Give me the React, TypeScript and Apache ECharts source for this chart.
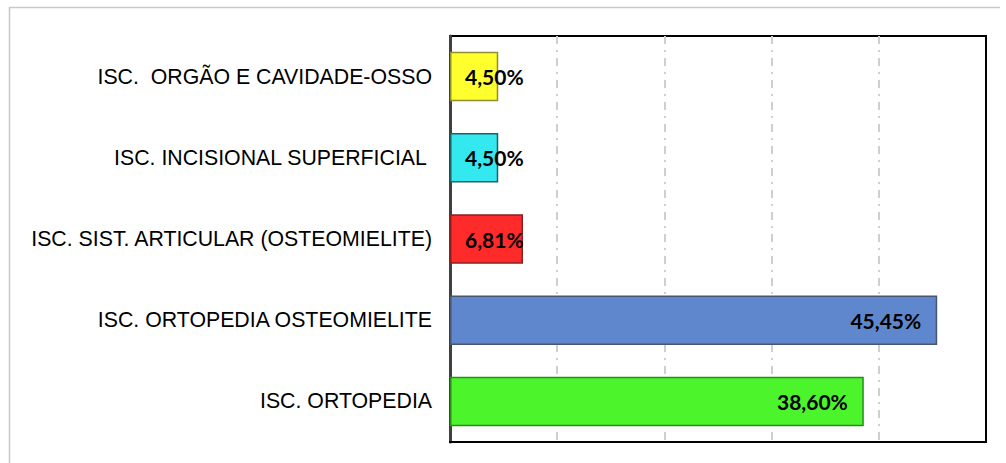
import React, { useEffect, useRef } from "react";
import * as echarts from "echarts";

const categories = [
  "ISC.  ORGÃO E CAVIDADE-OSSO",
  "ISC. INCISIONAL SUPERFICIAL ",
  "ISC. SIST. ARTICULAR (OSTEOMIELITE)",
  "ISC. ORTOPEDIA OSTEOMIELITE",
  "ISC. ORTOPEDIA",
];
const values = [4.5, 4.5, 6.81, 45.45, 38.6];
const valueLabels = ["4,50%", "4,50%", "6,81%", "45,45%", "38,60%"];
const barColors = ["#FFFF2E", "#33E8EE", "#FF2B2B", "#5F87CD", "#4CF52B"];
const borderColors = ["#8f8f30", "#1f5f66", "#8a2020", "#4a5570", "#2a8c1c"];
const axisMin = 0;
const axisMax = 50;
const axisInterval = 10;

export default function App() {
  const ref = useRef<HTMLDivElement>(null);
  useEffect(() => {
    if (!ref.current) return;
    const chart = echarts.init(ref.current, null, { renderer: "svg" });
    chart.setOption({
      animation: false,
      backgroundColor: "#ffffff",
      graphic: [
        {
          type: "polyline",
          shape: { points: [[9.5, 470], [9.5, 7.5], [1000, 7.5]] },
          style: { stroke: "#c8c8c8", lineWidth: 1.5, fill: "none" },
          silent: true,
        },
      ],
      grid: {
        left: 450,
        top: 36,
        right: 20,
        bottom: 21,
        show: true,
        borderColor: "#000000",
        borderWidth: 2,
        containLabel: false,
      },
      xAxis: {
        type: "value",
        min: axisMin,
        max: axisMax,
        interval: axisInterval,
        axisLabel: { show: false },
        axisTick: { show: false },
        axisLine: { show: true, lineStyle: { color: "#000", width: 2 } },
        splitLine: {
          show: true,
          showMinLine: false,
          showMaxLine: false,
          lineStyle: { color: "#cfcfcf", width: 2, type: [8, 6, 2, 6] },
        },
      },
      yAxis: {
        type: "category",
        inverse: true,
        data: categories,
        axisTick: { show: false },
        axisLine: { show: true, lineStyle: { color: "#404040", width: 3 } },
        axisLabel: {
          color: "#000",
          fontFamily: "Liberation Sans, Arial, sans-serif",
          fontSize: 21.3,
          margin: 18,
        },
        splitLine: { show: false },
      },
      series: [
        {
          type: "bar",
          barCategoryGap: "39%",
          data: values.map((v, i) => ({
            value: v,
            itemStyle: {
              color: barColors[i],
              borderColor: borderColors[i],
              borderWidth: 1.5,
            },
            label: {
              show: true,
              position: v > 20 ? "insideRight" : "insideLeft",
              distance: v > 20 ? 16 : 15,
              formatter: valueLabels[i],
              color: "#000",
              fontFamily: "Lato, sans-serif",
              fontWeight: "bold",
              fontSize: 21,
            },
          })),
        },
      ],
    });
    return () => chart.dispose();
  }, []);
  return (
    <div
      ref={ref}
      style={{ position: "fixed", left: 0, top: 0, width: 1006, height: 463 }}
    />
  );
}
